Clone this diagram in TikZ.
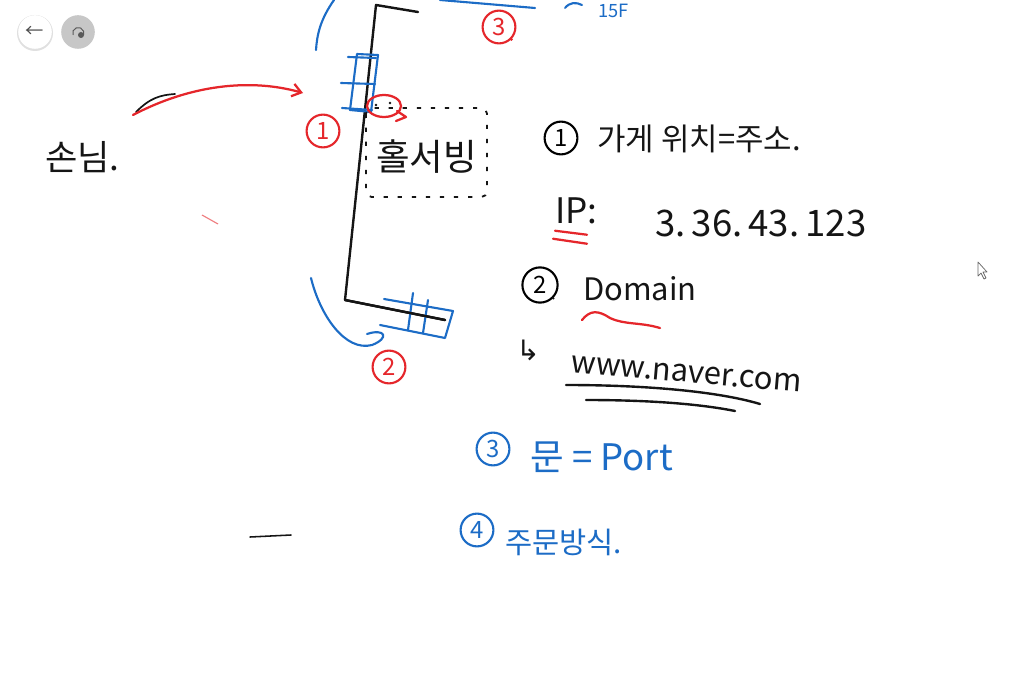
\documentclass[tikz,border=0pt]{standalone}
\usepackage{fontspec}
\setmainfont{Noto Sans CJK KR}
\newfontfamily\symfont{DejaVu Sans}
\usetikzlibrary{arrows.meta,positioning,calc}
\definecolor{pen}{HTML}{151515}
\definecolor{pblue}{HTML}{1C6CC6}
\definecolor{pred}{HTML}{E5262B}
\newcommand{\fs}[1]{\fontsize{#1}{#1}\selectfont}

\begin{document}
\begin{tikzpicture}[x=0.25mm,y=-0.25mm,
  bk/.style={pen,line width=1.7pt,line cap=round,line join=round},
  bl/.style={pblue,line width=1.5pt,line cap=round,line join=round},
  rd/.style={pred,line width=1.6pt,line cap=round,line join=round},
  tx/.style={inner sep=0pt,anchor=base west,text=pen},
  num/.style={circle,draw,line width=1.5pt,inner sep=0pt,minimum size=8.2mm,font=\fs{17}},
  ar/.style={-{Straight Barb[length=2.2mm,width=3.2mm]}}]
\useasboundingbox (0,0) rectangle (1016,686);
\fill[white] (0,0) rectangle (1016,686);
% screen buttons
\fill[black!12] (35,33) circle (18);
\node[circle,fill=white,minimum size=8.4mm,inner sep=0pt,font=\fs{13},text=black!70] (back) at (35,32) {←};
\node[circle,fill=black!22,minimum size=8.4mm,inner sep=0pt] (redo) at (78,32) {};
\draw[black!65,line width=0.7pt] ([shift={(-5,3)}]redo.center) arc[start angle=200,end angle=-20,radius=1.4mm];
\fill[black!65] ([shift={(3,3)}]redo.center) circle (3);
% cursor
\draw[black!60,fill=white,line width=0.5pt,line join=round] (978,262) -- (978,276) -- (981,273) -- (984,279) -- (986,278) -- (983,272) -- (987,272) -- cycle;

% building wall
\coordinate (top) at (376,5);
\coordinate (corner) at (345,300);
\draw[bk] (418,12) -- (top) -- (corner) -- (445,320);
% door
\draw[bl] (357,54) -- (378,55) -- (371,112) -- (350,110) -- cycle;
\draw[bl] (348,57) -- (376,58) (341,83) -- (375,84) (342,108) -- (372,110);
% window
\draw[bl] (384,299) -- (453,311) -- (445,338) -- (380,325);
\draw[bl] (413,293) -- (408,330) (428,300) -- (423,333);
\draw[bk] (345,300) -- (445,320);
% blue curves
\draw[bl] (334,0) .. controls (320,20) and (317,35) .. (316,50);
\draw[bl] (311,278) .. controls (320,315) and (345,352) .. (372,345) .. controls (390,338) and (385,328) .. (367,334);
\draw[bl] (440,0) -- (535,8);
\draw[bl] (565,8) .. controls (570,2) and (576,2) .. (582,5);
\node[tx,text=pblue,font=\fs{13}] (floor) at (598,18) {15F};
% guest
\node[tx,font=\fs{25}] (guest) at (45,170) {손님.};
\coordinate (from) at (133,115);
\coordinate (door) at (303,93);
\draw[bk,line width=1.2pt] (136,112) .. controls (150,98) and (160,95) .. (175,94);
\draw[rd,ar] (from) .. controls (190,85) and (250,78) .. (door);
\draw[pred!60,line width=0.8pt] (202,215) -- (218,224);
% hall server
\draw[pen,line width=1.3pt,dash pattern=on 3pt off 7pt,rounded corners=4pt] (366,108) rectangle (487,197);
\node[tx,font=\fs{26}] (hall) at (376,170) {홀서빙};
\draw[rd] (384,106) ellipse[x radius=17,y radius=11];
\draw[rd] (397,111) -- (406,117) -- (396,121);
\fill[pen] (376,105) circle (1.4) (390,103) circle (1.4);
% red marks
\node[num,draw=pred,text=pred] (m1) at (323,131) {1};
\node[num,draw=pred,text=pred] (m2) at (389,367) {2};
\node[num,draw=pred,text=pred] (m3) at (499,27) {3};
\fill[pred] (m3.south east) circle (1.6);

% notes
\node[num] (n1) at (561,138) {1};
\node[tx,font=\fs{22}] (addr) at (597,150) {가게 위치=주소.};
\node[tx,font=\fs{25}] (ip) at (555,223) {IP:};
\node[tx,font=\fs{26}] (ipnum) at (655,236) {3.\,36.\,43.\,123};
\draw[rd] (ip.south west) ++(0,7) -- ++(32,4);
\draw[rd] (ip.south west) ++(-2,15) -- ++(34,5);
\node[num,minimum size=8.8mm] (n2) at (540,285) {2};
\fill[pen] (n2.south east) circle (1.4);
\node[tx,font=\fs{22}] (dom) at (583,300) {Domain};
\draw[rd] (582,320) .. controls (590,310) and (598,310) .. (610,318) .. controls (625,325) and (640,322) .. (660,328);
\node[tx,font=\fs{20}\symfont] (hook) at (516,360) {↳};
\node[tx,font=\fs{22},rotate=-5] (url) at (570,372) {www.naver.com};
\draw[bk] (566,385) .. controls (650,385) and (720,392) .. (760,404);
\draw[bk] (586,400) .. controls (650,400) and (700,404) .. (735,411);
\node[num,draw=pblue,text=pblue] (n3) at (493,449) {3};
\node[tx,font=\fs{26},text=pblue] (port) at (530,470) {문 = Port};
\node[num,draw=pblue,text=pblue] (n4) at (477,530) {4};
\node[tx,font=\fs{21},text=pblue] (order) at (505,553) {주문방식.};
\draw[bk,line width=1.1pt] (250,537) -- (291,535);
\end{tikzpicture}
\end{document}
